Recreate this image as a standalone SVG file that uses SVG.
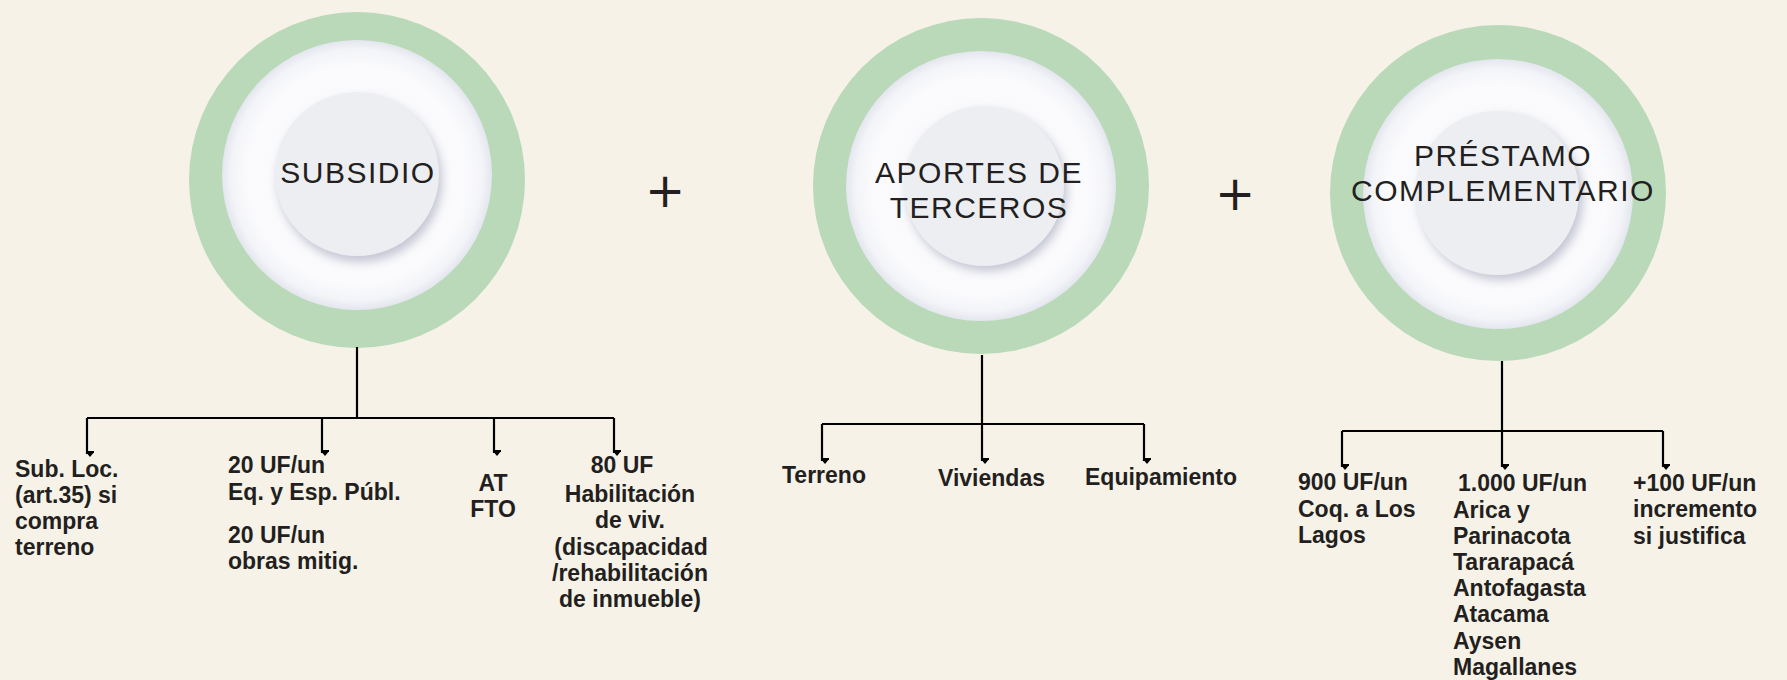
<svg xmlns="http://www.w3.org/2000/svg" width="1787" height="680" viewBox="0 0 1787 680">
<style>
.bg{fill:#f6f2e7}
.ring{fill:#b9d9b9}
.plate{fill:url(#plateG)}
.inner{fill:#eceef2}
.shadow{fill:#c4c6d3;filter:url(#blur)}
.title{font-family:"Liberation Sans",Arial,sans-serif;font-size:30px;letter-spacing:1.5px;fill:#231f20;text-anchor:middle}
.lbl{font-family:"Liberation Sans",Arial,sans-serif;font-size:23px;font-weight:bold;fill:#231f20}
.mid{text-anchor:middle}
.plus{font-family:"DejaVu Sans",sans-serif;font-size:48px;fill:#231f20;text-anchor:middle}
.conn{fill:none;stroke:#000;stroke-width:2.2}
</style>
<defs>
<radialGradient id="plateG" cx="50%" cy="50%" r="50%">
<stop offset="0" stop-color="#f4f5f8"/>
<stop offset="0.8" stop-color="#fbfbfd"/>
<stop offset="0.93" stop-color="#f3f4f8"/>
<stop offset="1" stop-color="#e4e6ee"/>
</radialGradient>
<filter id="blur" x="-20%" y="-20%" width="140%" height="140%"><feGaussianBlur stdDeviation="5"/></filter>
<marker id="arr" viewBox="0 0 10 8" refX="5" refY="7" markerWidth="10" markerHeight="8" markerUnits="userSpaceOnUse" orient="auto">
<path d="M0,1 L10,1 L5,7 Z" fill="#000" transform="rotate(-90 5 4)"/>
</marker>
</defs>
<rect class="bg" x="0" y="0" width="1787" height="680"/>

<g id="subsidio">
<circle class="ring" cx="357" cy="180" r="168"/>
<circle class="plate" cx="357" cy="175" r="135"/>
<circle class="shadow" cx="360" cy="180" r="82"/>
<circle class="inner" cx="357" cy="174" r="82"/>
<text class="title" x="358" y="183">SUBSIDIO</text>
</g>

<g id="plus1"><text class="plus" x="665" y="207">+</text></g>

<g id="aportes">
<circle class="ring" cx="981" cy="186" r="168"/>
<circle class="plate" cx="981" cy="186" r="135"/>
<circle class="shadow" cx="987" cy="191" r="80"/>
<circle class="inner" cx="984" cy="186" r="80"/>
<text class="title"><tspan x="979" y="183">APORTES DE</tspan><tspan x="979" y="218">TERCEROS</tspan></text>
</g>

<g id="plus2"><text class="plus" x="1235" y="210">+</text></g>

<g id="prestamo">
<circle class="ring" cx="1498" cy="193" r="168"/>
<circle class="plate" cx="1498" cy="194" r="135"/>
<circle class="shadow" cx="1501" cy="198" r="82"/>
<circle class="inner" cx="1497" cy="193" r="82"/>
<text class="title"><tspan x="1503" y="166">PRÉSTAMO</tspan><tspan x="1503" y="201">COMPLEMENTARIO</tspan></text>
</g>

<g id="connectors">
<path class="conn" d="M357,347 V418 M87,418 H614"/>
<path class="conn" marker-end="url(#arr)" d="M87,418 V454"/>
<path class="conn" marker-end="url(#arr)" d="M322,418 V453"/>
<path class="conn" marker-end="url(#arr)" d="M494,418 V453"/>
<path class="conn" marker-end="url(#arr)" d="M614,418 V453"/>

<path class="conn" d="M982,355 V424 M822,424 H1144"/>
<path class="conn" marker-end="url(#arr)" d="M822,424 V461"/>
<path class="conn" marker-end="url(#arr)" d="M982,424 V461"/>
<path class="conn" marker-end="url(#arr)" d="M1144,424 V461"/>

<path class="conn" d="M1502,361 V431 M1342,431 H1663"/>
<path class="conn" marker-end="url(#arr)" d="M1342,431 V467"/>
<path class="conn" marker-end="url(#arr)" d="M1502,431 V467"/>
<path class="conn" marker-end="url(#arr)" d="M1663,431 V467"/>
</g>

<g id="sub-loc">
<text class="lbl"><tspan x="15" y="477">Sub. Loc.</tspan><tspan x="15" y="503">(art.35) si</tspan><tspan x="15" y="529">compra</tspan><tspan x="15" y="555">terreno</tspan></text>
</g>
<g id="eq-esp">
<text class="lbl"><tspan x="228" y="473">20 UF/un</tspan><tspan x="228" y="500">Eq. y Esp. Públ.</tspan></text>
<text class="lbl"><tspan x="228" y="543">20 UF/un</tspan><tspan x="228" y="569">obras mitig.</tspan></text>
</g>
<g id="at-fto">
<text class="lbl mid"><tspan x="493" y="491">AT</tspan><tspan x="493" y="517">FTO</tspan></text>
</g>
<g id="habilitacion">
<text class="lbl mid"><tspan x="622" y="473">80 UF</tspan><tspan x="630" y="502">Habilitación</tspan><tspan x="630" y="528">de viv.</tspan><tspan x="631" y="555">(discapacidad</tspan><tspan x="630" y="581">/rehabilitación</tspan><tspan x="630" y="607">de inmueble)</tspan></text>
</g>

<g id="terreno"><text class="lbl" x="782" y="483">Terreno</text></g>
<g id="viviendas"><text class="lbl" x="938" y="486">Viviendas</text></g>
<g id="equipamiento"><text class="lbl" x="1085" y="485">Equipamiento</text></g>

<g id="p900">
<text class="lbl"><tspan x="1298" y="490">900 UF/un</tspan><tspan x="1298" y="517">Coq. a Los</tspan><tspan x="1298" y="543">Lagos</tspan></text>
</g>
<g id="p1000">
<text class="lbl"><tspan x="1458" y="491">1.000 UF/un</tspan><tspan x="1453" y="518">Arica y</tspan><tspan x="1453" y="544">Parinacota</tspan><tspan x="1453" y="570">Tararapacá</tspan><tspan x="1453" y="596">Antofagasta</tspan><tspan x="1453" y="622">Atacama</tspan><tspan x="1453" y="649">Aysen</tspan><tspan x="1453" y="675">Magallanes</tspan></text>
</g>
<g id="p100">
<text class="lbl"><tspan x="1633" y="491">+100 UF/un</tspan><tspan x="1633" y="517">incremento</tspan><tspan x="1633" y="544">si justifica</tspan></text>
</g>
</svg>
